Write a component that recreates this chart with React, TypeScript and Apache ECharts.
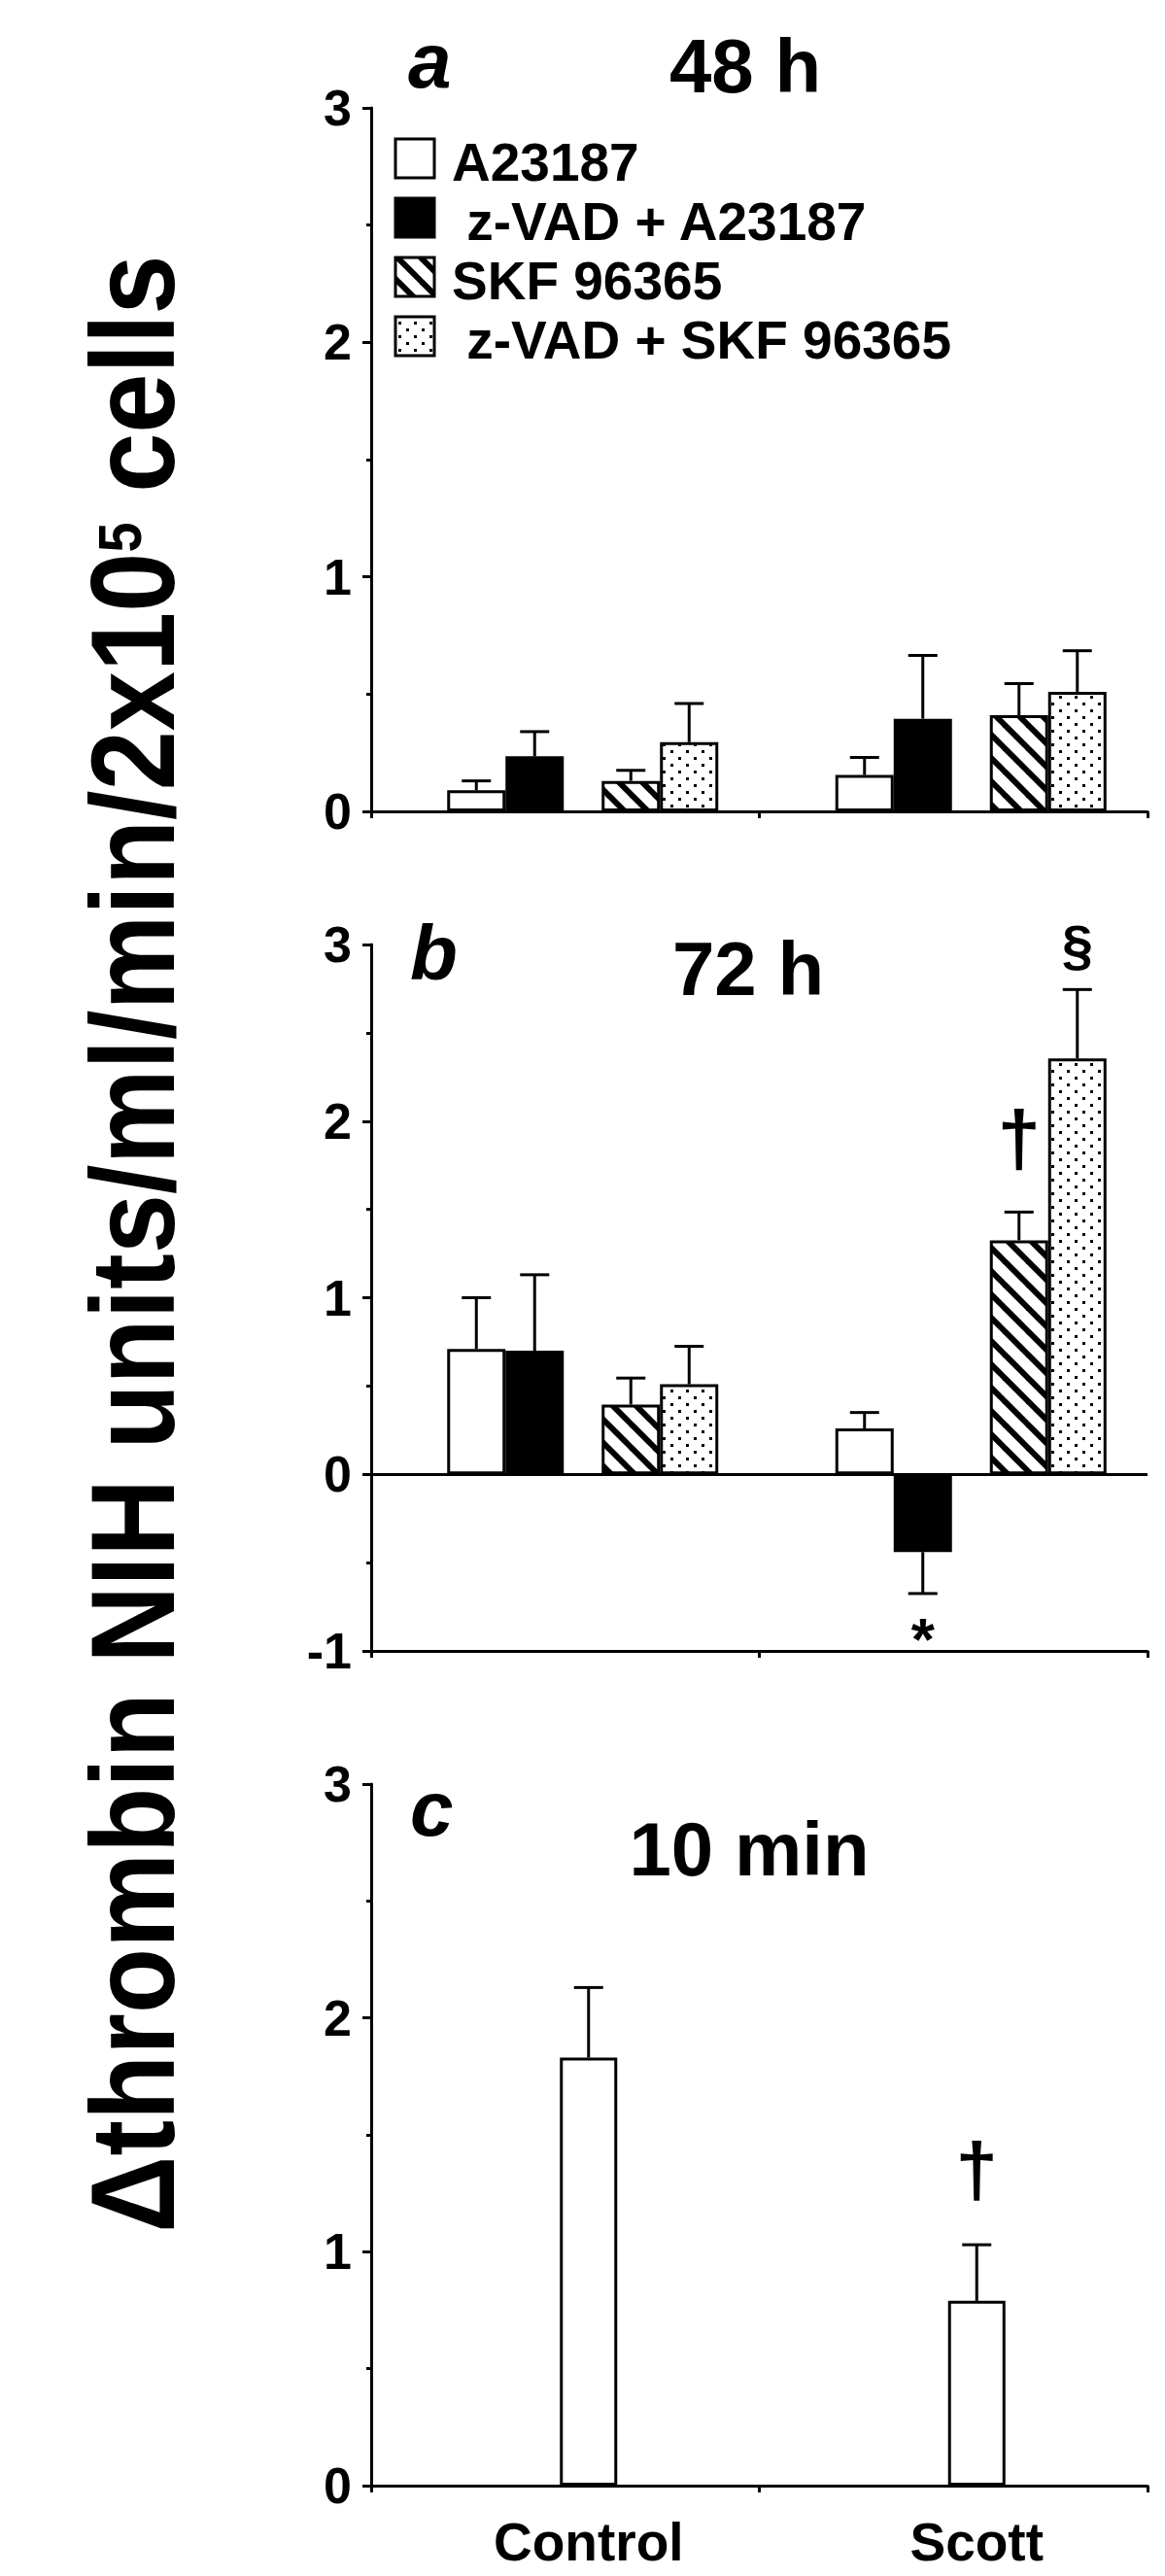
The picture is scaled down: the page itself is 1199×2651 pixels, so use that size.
import React, { useEffect, useRef } from "react";
import * as echarts from "echarts";

const FONT = '"Liberation Sans", Arial, Helvetica, sans-serif';

const CATEGORIES = ["Control", "Scott"];
const SERIES_NAMES = ["A23187", " z-VAD + A23187", "SKF 96365", " z-VAD + SKF 96365"];

// Panel a: 48 h
const A23187_48_MEAN = [0.09, 0.155];
const A23187_48_SEM = [0.04, 0.075];
const ZVAD_A23187_48_MEAN = [0.235, 0.395];
const ZVAD_A23187_48_SEM = [0.105, 0.27];
const SKF_48_MEAN = [0.13, 0.41];
const SKF_48_SEM = [0.045, 0.135];
const ZVAD_SKF_48_MEAN = [0.295, 0.51];
const ZVAD_SKF_48_SEM = [0.165, 0.175];

// Panel b: 72 h
const A23187_72_MEAN = [0.71, 0.26];
const A23187_72_SEM = [0.29, 0.09];
const ZVAD_A23187_72_MEAN = [0.7, -0.44];
const ZVAD_A23187_72_SEM = [0.43, 0.235];
const SKF_72_MEAN = [0.395, 1.325];
const SKF_72_SEM = [0.15, 0.16];
const ZVAD_SKF_72_MEAN = [0.51, 2.355];
const ZVAD_SKF_72_SEM = [0.215, 0.39];

// Panel c: 10 min
const MIN10_MEAN = [1.83, 0.79];
const MIN10_SEM = [0.3, 0.24];

// Y axis ranges
const Y_RANGE_A = [0, 3];
const Y_RANGE_B = [-1, 3];
const Y_RANGE_C = [0, 3];

// significance marks: [category, slot, y position]
const MARKS_B = [
  [1, 2, 1.9],
  [1, 3, 3.0],
  [1, 1, -0.93],
];
const MARKS_B_TEXT = ["\u2020", "\u00a7", "*"];
const MARKS_B_SIZE = [80, 58, 62];
const MARKS_C = [[1, 0, 1.35]];
const MARKS_C_TEXT = ["\u2020"];
const MARKS_C_SIZE = [78];

const TITLES = ["48 h", "72 h", "10 min"];
const PANEL_LETTERS = ["a", "b", "c"];

// layout (pixels)
const GRID_LEFT = 382;
const GRID_WIDTH = 799;
const GRIDS = [
  { top: 111, height: 724 },
  { top: 972, height: 727 },
  { top: 1836, height: 722 },
];
const SLOT_OFFSETS4 = [-91.5, -31.5, 67.5, 127.5];
const SLOT_OFFSETS1 = [24];

function makePattern(w: number, h: number, draw: (ctx: CanvasRenderingContext2D) => void) {
  const c = document.createElement("canvas");
  c.width = w;
  c.height = h;
  const ctx = c.getContext("2d")!;
  ctx.fillStyle = "#fff";
  ctx.fillRect(0, 0, w, h);
  ctx.fillStyle = "#000";
  ctx.strokeStyle = "#000";
  draw(ctx);
  return { image: c.toDataURL(), repeat: "repeat", imageWidth: w, imageHeight: h } as any;
}

export default function App() {
  const ref = useRef<HTMLDivElement>(null);

  useEffect(() => {
    if (!ref.current) return;
    const chart = echarts.init(ref.current, null, { renderer: "svg" });

    const stripe = makePattern(24, 24, (ctx) => {
      ctx.lineWidth = 6;
      for (let k = -1; k <= 1; k++) {
        ctx.beginPath();
        ctx.moveTo(k * 24 - 2, -2);
        ctx.lineTo(k * 24 + 26, 26);
        ctx.stroke();
      }
    });
    const dots = makePattern(16, 14, (ctx) => {
      ctx.fillRect(2, 2, 3, 3);
      ctx.fillRect(10, 9, 3, 3);
    });

    const fills = ["#fff", "#000", stripe, dots];

    const yAxis = (gridIndex: number, range: number[]) => ({
      type: "value",
      gridIndex,
      min: range[0],
      max: range[1],
      interval: 1,
      axisLine: { show: true, lineStyle: { color: "#000", width: 3 } },
      axisTick: { show: true, length: 9, lineStyle: { color: "#000", width: 3 } },
      minorTick: { show: true, splitNumber: 2, length: 5, lineStyle: { color: "#000", width: 3 } },
      splitLine: { show: false },
      minorSplitLine: { show: false },
      axisLabel: { fontSize: 52, fontWeight: "bold", color: "#000", margin: 20, fontFamily: FONT },
    });

    const xAxis = (gridIndex: number, showLabel: boolean) => ({
      type: "category",
      gridIndex,
      data: CATEGORIES,
      axisLine: { onZero: false, lineStyle: { color: "#000", width: 3 } },
      axisTick: { show: true, length: 7, lineStyle: { color: "#000", width: 3 } },
      axisLabel: {
        show: showLabel,
        fontSize: 55,
        fontWeight: "bold",
        color: "#000",
        margin: 30,
        padding: [0, 0, 0, 48],
        fontFamily: FONT,
      },
    });

    const errSeries = (idx: number, rows: number[][], offsets: number[]) => ({
      type: "custom",
      xAxisIndex: idx,
      yAxisIndex: idx,
      z: 5,
      silent: true,
      data: rows,
      encode: { x: 0, y: [2, 3] },
      renderItem: (params: any, api: any) => {
        const cat = api.value(0);
        const slot = api.value(1);
        const v = api.value(2);
        const t = api.value(3);
        const base = api.coord([cat, v]);
        const tip = api.coord([cat, t]);
        const x = base[0] + offsets[slot];
        return {
          type: "group",
          children: [
            { type: "line", shape: { x1: x, y1: base[1], x2: x, y2: tip[1] }, style: { stroke: "#000", lineWidth: 3 } },
            { type: "line", shape: { x1: x - 15, y1: tip[1], x2: x + 15, y2: tip[1] }, style: { stroke: "#000", lineWidth: 3 } },
          ],
        };
      },
    });

    const markSeries = (idx: number, rows: number[][], texts: string[], sizes: number[], offsets: number[]) => ({
      type: "custom",
      xAxisIndex: idx,
      yAxisIndex: idx,
      z: 6,
      silent: true,
      data: rows,
      encode: { x: 0, y: 2 },
      renderItem: (params: any, api: any) => {
        const p = api.coord([api.value(0), api.value(2)]);
        return {
          type: "text",
          x: p[0] + offsets[api.value(1)],
          y: p[1],
          style: {
            text: texts[params.dataIndex],
            fontSize: sizes[params.dataIndex],
            fontWeight: "bold",
            fontFamily: FONT,
            fill: "#000",
            align: "center",
            verticalAlign: "middle",
          },
        };
      },
    });

    const errRows = (means: number[][], sems: number[][]) => {
      const rows: number[][] = [];
      means.forEach((m, s) => {
        m.forEach((v, c) => {
          const sign = v < 0 ? -1 : 1;
          rows.push([c, s, v, v + sign * sems[s][c]]);
        });
      });
      return rows;
    };

    const spacer = (idx: number, width: number) => ({
      type: "bar",
      xAxisIndex: idx,
      yAxisIndex: idx,
      data: ["-", "-"],
      barWidth: width,
      barGap: "0%",
      silent: true,
      itemStyle: { color: "transparent" },
    });

    const fourBars = (idx: number, means: number[][], withZero: boolean) => {
      const bar = (s: number) => ({
        type: "bar",
        name: SERIES_NAMES[s],
        xAxisIndex: idx,
        yAxisIndex: idx,
        data: means[s],
        barWidth: 60,
        barGap: "0%",
        silent: true,
        itemStyle: { color: fills[s], borderColor: "#000", borderWidth: 3 },
        ...(withZero && s === 0
          ? {
              markLine: {
                silent: true,
                symbol: ["none", "none"],
                label: { show: false },
                lineStyle: { color: "#000", width: 3, type: "solid" },
                data: [{ yAxis: 0 }],
              },
            }
          : {}),
      });
      return [spacer(idx, 36), bar(0), bar(1), spacer(idx, 39), bar(2), bar(3)];
    };

    const m48 = [A23187_48_MEAN, ZVAD_A23187_48_MEAN, SKF_48_MEAN, ZVAD_SKF_48_MEAN];
    const s48 = [A23187_48_SEM, ZVAD_A23187_48_SEM, SKF_48_SEM, ZVAD_SKF_48_SEM];
    const m72 = [A23187_72_MEAN, ZVAD_A23187_72_MEAN, SKF_72_MEAN, ZVAD_SKF_72_MEAN];
    const s72 = [A23187_72_SEM, ZVAD_A23187_72_SEM, SKF_72_SEM, ZVAD_SKF_72_SEM];

    const titleText = (text: string, x: number, y: number, size: number, align: string, italic = false) => ({
      type: "text",
      x,
      y,
      silent: true,
      style: {
        text,
        fontSize: size,
        fontWeight: "bold",
        fontStyle: italic ? "italic" : "normal",
        fontFamily: FONT,
        fill: "#000",
        align,
        verticalAlign: "middle",
      },
    });

    const legendTops = [143, 204, 265, 326];
    const legendItems: any[] = [];
    legendTops.forEach((t, i) => {
      legendItems.push({
        type: "rect",
        silent: true,
        shape: { x: 407, y: t, width: 40, height: 40 },
        style: { fill: fills[i], stroke: "#000", lineWidth: 3 },
      });
      legendItems.push({
        type: "text",
        silent: true,
        x: 465,
        y: t + 24,
        style: {
          text: SERIES_NAMES[i],
          fontSize: 55,
          fontWeight: "bold",
          fontFamily: FONT,
          fill: "#000",
          align: "left",
          verticalAlign: "middle",
        },
      });
    });

    const option: any = {
      animation: false,
      backgroundColor: "#fff",
      grid: GRIDS.map((g) => ({ left: GRID_LEFT, width: GRID_WIDTH, top: g.top, height: g.height, containLabel: false })),
      xAxis: [xAxis(0, false), xAxis(1, false), xAxis(2, true)],
      yAxis: [yAxis(0, Y_RANGE_A), yAxis(1, Y_RANGE_B), yAxis(2, Y_RANGE_C)],
      series: [
        ...fourBars(0, m48, false),
        errSeries(0, errRows(m48, s48), SLOT_OFFSETS4),
        ...fourBars(1, m72, true),
        errSeries(1, errRows(m72, s72), SLOT_OFFSETS4),
        markSeries(1, MARKS_B, MARKS_B_TEXT, MARKS_B_SIZE, SLOT_OFFSETS4),
        spacer(2, 48),
        {
          type: "bar",
          name: "A23187",
          xAxisIndex: 2,
          yAxisIndex: 2,
          data: MIN10_MEAN,
          barWidth: 59,
          barGap: "0%",
          silent: true,
          itemStyle: { color: "#fff", borderColor: "#000", borderWidth: 3 },
        },
        errSeries(2, errRows([MIN10_MEAN], [MIN10_SEM]), SLOT_OFFSETS1),
        markSeries(2, MARKS_C, MARKS_C_TEXT, MARKS_C_SIZE, SLOT_OFFSETS1),
      ],
      graphic: [
        titleText(PANEL_LETTERS[0], 420, 62, 80, "left", true),
        titleText(TITLES[0], 767, 68, 78, "center"),
        titleText(PANEL_LETTERS[1], 422, 980, 80, "left", true),
        titleText(TITLES[1], 770, 997, 78, "center"),
        titleText(PANEL_LETTERS[2], 422, 1861, 80, "left", true),
        titleText(TITLES[2], 771, 1903, 78, "center"),
        ...legendItems,
        {
          type: "text",
          silent: true,
          x: 136,
          y: 1280,
          rotation: Math.PI / 2,
          scaleY: 1.12,
          style: {
            text: "{m|\u0394thrombin NIH units/ml/min/2x10}{s|5}{m| cells}",
            rich: {
              m: { fontSize: 110, fontWeight: "bold", fontFamily: FONT, fill: "#000" },
              s: { fontSize: 56, fontWeight: "bold", fontFamily: FONT, fill: "#000", padding: [0, 0, 23, 0] },
            },
            fill: "#000",
            align: "center",
            verticalAlign: "middle",
          },
        },
      ],
    };

    chart.setOption(option);
    return () => chart.dispose();
  }, []);

  return (
    <div
      ref={ref}
      style={{ position: "absolute", left: 0, top: 0, width: 1199, height: 2651, background: "#fff" }}
    />
  );
}
